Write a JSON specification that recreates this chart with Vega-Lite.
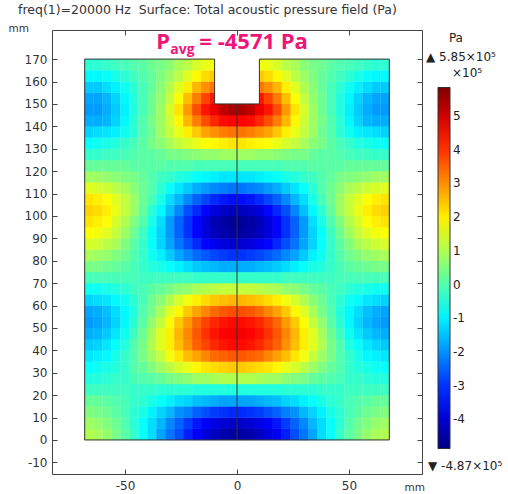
{
"$schema": "https://vega.github.io/schema/vega-lite/v6.json",
"width": 370, "height": 444,
"autosize": "none",
"padding": {"left": 52, "top": 30, "right": 86, "bottom": 20},
"background": "white",
"config": {
  "view": {"stroke": "#444", "strokeWidth": 1},
  "font": "DejaVu Sans",
  "axis": {"grid": false, "domain": false, "tickColor": "#444", "labelColor": "#333", "labelFont": "DejaVu Sans", "labelFontSize": 12, "titleFont": "DejaVu Sans", "titleFontSize": 10.5, "titleFontWeight": "normal", "titleColor": "#333", "labelExpr": "replace(datum.label, '\u2212', '-')"}
},
"title": {"text": "freq(1)=20000 Hz\u00a0 Surface: Total acoustic pressure field (Pa)", "anchor": "start", "frame": "group", "dx": -34, "offset": 7, "fontSize": 12.5, "fontWeight": "normal", "color": "#333", "font": "DejaVu Sans"},
"datasets": {
"cells": [
{"x":-66,"y":2.5,"p":1.0},{"x":-62,"y":2.5,"p":0.9},{"x":-58,"y":2.5,"p":0.7},{"x":-54,"y":2.5,"p":0.4},{"x":-50,"y":2.5,"p":0.1},{"x":-46,"y":2.5,"p":-0.3},{"x":-42,"y":2.5,"p":-0.8},{"x":-38,"y":2.5,"p":-1.2},{"x":-34,"y":2.5,"p":-1.8},{"x":-30,"y":2.5,"p":-2.3},{"x":-26,"y":2.5,"p":-2.7},{"x":-22,"y":2.5,"p":-3.2},{"x":-18,"y":2.5,"p":-3.6},{"x":-14,"y":2.5,"p":-3.9},{"x":-10,"y":2.5,"p":-4.2},{"x":-6,"y":2.5,"p":-4.4},{"x":-2,"y":2.5,"p":-4.5},{"x":2,"y":2.5,"p":-4.5},{"x":6,"y":2.5,"p":-4.4},{"x":10,"y":2.5,"p":-4.2},{"x":14,"y":2.5,"p":-3.9},{"x":18,"y":2.5,"p":-3.6},{"x":22,"y":2.5,"p":-3.2},{"x":26,"y":2.5,"p":-2.7},{"x":30,"y":2.5,"p":-2.3},{"x":34,"y":2.5,"p":-1.8},{"x":38,"y":2.5,"p":-1.2},{"x":42,"y":2.5,"p":-0.8},{"x":46,"y":2.5,"p":-0.3},{"x":50,"y":2.5,"p":0.1},{"x":54,"y":2.5,"p":0.4},{"x":58,"y":2.5,"p":0.7},{"x":62,"y":2.5,"p":0.9},{"x":66,"y":2.5,"p":1.0},
{"x":-66,"y":7.5,"p":0.8},{"x":-62,"y":7.5,"p":0.7},{"x":-58,"y":7.5,"p":0.5},{"x":-54,"y":7.5,"p":0.3},{"x":-50,"y":7.5,"p":0.0},{"x":-46,"y":7.5,"p":-0.4},{"x":-42,"y":7.5,"p":-0.8},{"x":-38,"y":7.5,"p":-1.2},{"x":-34,"y":7.5,"p":-1.6},{"x":-30,"y":7.5,"p":-2.1},{"x":-26,"y":7.5,"p":-2.5},{"x":-22,"y":7.5,"p":-2.9},{"x":-18,"y":7.5,"p":-3.3},{"x":-14,"y":7.5,"p":-3.6},{"x":-10,"y":7.5,"p":-3.8},{"x":-6,"y":7.5,"p":-4.0},{"x":-2,"y":7.5,"p":-4.1},{"x":2,"y":7.5,"p":-4.1},{"x":6,"y":7.5,"p":-4.0},{"x":10,"y":7.5,"p":-3.8},{"x":14,"y":7.5,"p":-3.6},{"x":18,"y":7.5,"p":-3.3},{"x":22,"y":7.5,"p":-2.9},{"x":26,"y":7.5,"p":-2.5},{"x":30,"y":7.5,"p":-2.1},{"x":34,"y":7.5,"p":-1.6},{"x":38,"y":7.5,"p":-1.2},{"x":42,"y":7.5,"p":-0.8},{"x":46,"y":7.5,"p":-0.4},{"x":50,"y":7.5,"p":0.0},{"x":54,"y":7.5,"p":0.3},{"x":58,"y":7.5,"p":0.5},{"x":62,"y":7.5,"p":0.7},{"x":66,"y":7.5,"p":0.8},
{"x":-66,"y":12.5,"p":0.5},{"x":-62,"y":12.5,"p":0.4},{"x":-58,"y":12.5,"p":0.3},{"x":-54,"y":12.5,"p":0.1},{"x":-50,"y":12.5,"p":-0.1},{"x":-46,"y":12.5,"p":-0.4},{"x":-42,"y":12.5,"p":-0.6},{"x":-38,"y":12.5,"p":-1.0},{"x":-34,"y":12.5,"p":-1.3},{"x":-30,"y":12.5,"p":-1.6},{"x":-26,"y":12.5,"p":-2.0},{"x":-22,"y":12.5,"p":-2.2},{"x":-18,"y":12.5,"p":-2.5},{"x":-14,"y":12.5,"p":-2.7},{"x":-10,"y":12.5,"p":-2.9},{"x":-6,"y":12.5,"p":-3.0},{"x":-2,"y":12.5,"p":-3.1},{"x":2,"y":12.5,"p":-3.1},{"x":6,"y":12.5,"p":-3.0},{"x":10,"y":12.5,"p":-2.9},{"x":14,"y":12.5,"p":-2.7},{"x":18,"y":12.5,"p":-2.5},{"x":22,"y":12.5,"p":-2.2},{"x":26,"y":12.5,"p":-2.0},{"x":30,"y":12.5,"p":-1.6},{"x":34,"y":12.5,"p":-1.3},{"x":38,"y":12.5,"p":-1.0},{"x":42,"y":12.5,"p":-0.6},{"x":46,"y":12.5,"p":-0.4},{"x":50,"y":12.5,"p":-0.1},{"x":54,"y":12.5,"p":0.1},{"x":58,"y":12.5,"p":0.3},{"x":62,"y":12.5,"p":0.4},{"x":66,"y":12.5,"p":0.5},
{"x":-66,"y":17.5,"p":0.2},{"x":-62,"y":17.5,"p":0.2},{"x":-58,"y":17.5,"p":0.1},{"x":-54,"y":17.5,"p":0.0},{"x":-50,"y":17.5,"p":-0.1},{"x":-46,"y":17.5,"p":-0.3},{"x":-42,"y":17.5,"p":-0.4},{"x":-38,"y":17.5,"p":-0.6},{"x":-34,"y":17.5,"p":-0.8},{"x":-30,"y":17.5,"p":-1.0},{"x":-26,"y":17.5,"p":-1.2},{"x":-22,"y":17.5,"p":-1.3},{"x":-18,"y":17.5,"p":-1.5},{"x":-14,"y":17.5,"p":-1.6},{"x":-10,"y":17.5,"p":-1.7},{"x":-6,"y":17.5,"p":-1.8},{"x":-2,"y":17.5,"p":-1.8},{"x":2,"y":17.5,"p":-1.8},{"x":6,"y":17.5,"p":-1.8},{"x":10,"y":17.5,"p":-1.7},{"x":14,"y":17.5,"p":-1.6},{"x":18,"y":17.5,"p":-1.5},{"x":22,"y":17.5,"p":-1.3},{"x":26,"y":17.5,"p":-1.2},{"x":30,"y":17.5,"p":-1.0},{"x":34,"y":17.5,"p":-0.8},{"x":38,"y":17.5,"p":-0.6},{"x":42,"y":17.5,"p":-0.4},{"x":46,"y":17.5,"p":-0.3},{"x":50,"y":17.5,"p":-0.1},{"x":54,"y":17.5,"p":0.0},{"x":58,"y":17.5,"p":0.1},{"x":62,"y":17.5,"p":0.2},{"x":66,"y":17.5,"p":0.2},
{"x":-66,"y":22.5,"p":-0.2},{"x":-62,"y":22.5,"p":-0.2},{"x":-58,"y":22.5,"p":-0.2},{"x":-54,"y":22.5,"p":-0.2},{"x":-50,"y":22.5,"p":-0.2},{"x":-46,"y":22.5,"p":-0.3},{"x":-42,"y":22.5,"p":-0.3},{"x":-38,"y":22.5,"p":-0.3},{"x":-34,"y":22.5,"p":-0.4},{"x":-30,"y":22.5,"p":-0.4},{"x":-26,"y":22.5,"p":-0.4},{"x":-22,"y":22.5,"p":-0.4},{"x":-18,"y":22.5,"p":-0.5},{"x":-14,"y":22.5,"p":-0.5},{"x":-10,"y":22.5,"p":-0.5},{"x":-6,"y":22.5,"p":-0.5},{"x":-2,"y":22.5,"p":-0.5},{"x":2,"y":22.5,"p":-0.5},{"x":6,"y":22.5,"p":-0.5},{"x":10,"y":22.5,"p":-0.5},{"x":14,"y":22.5,"p":-0.5},{"x":18,"y":22.5,"p":-0.5},{"x":22,"y":22.5,"p":-0.4},{"x":26,"y":22.5,"p":-0.4},{"x":30,"y":22.5,"p":-0.4},{"x":34,"y":22.5,"p":-0.4},{"x":38,"y":22.5,"p":-0.3},{"x":42,"y":22.5,"p":-0.3},{"x":46,"y":22.5,"p":-0.3},{"x":50,"y":22.5,"p":-0.2},{"x":54,"y":22.5,"p":-0.2},{"x":58,"y":22.5,"p":-0.2},{"x":62,"y":22.5,"p":-0.2},{"x":66,"y":22.5,"p":-0.2},
{"x":-66,"y":27.5,"p":-0.5},{"x":-62,"y":27.5,"p":-0.5},{"x":-58,"y":27.5,"p":-0.4},{"x":-54,"y":27.5,"p":-0.3},{"x":-50,"y":27.5,"p":-0.3},{"x":-46,"y":27.5,"p":-0.1},{"x":-42,"y":27.5,"p":0.0},{"x":-38,"y":27.5,"p":0.1},{"x":-34,"y":27.5,"p":0.2},{"x":-30,"y":27.5,"p":0.4},{"x":-26,"y":27.5,"p":0.5},{"x":-22,"y":27.5,"p":0.6},{"x":-18,"y":27.5,"p":0.8},{"x":-14,"y":27.5,"p":0.8},{"x":-10,"y":27.5,"p":0.9},{"x":-6,"y":27.5,"p":1.0},{"x":-2,"y":27.5,"p":1.0},{"x":2,"y":27.5,"p":1.0},{"x":6,"y":27.5,"p":1.0},{"x":10,"y":27.5,"p":0.9},{"x":14,"y":27.5,"p":0.8},{"x":18,"y":27.5,"p":0.8},{"x":22,"y":27.5,"p":0.6},{"x":26,"y":27.5,"p":0.5},{"x":30,"y":27.5,"p":0.4},{"x":34,"y":27.5,"p":0.2},{"x":38,"y":27.5,"p":0.1},{"x":42,"y":27.5,"p":0.0},{"x":46,"y":27.5,"p":-0.1},{"x":50,"y":27.5,"p":-0.3},{"x":54,"y":27.5,"p":-0.3},{"x":58,"y":27.5,"p":-0.4},{"x":62,"y":27.5,"p":-0.5},{"x":66,"y":27.5,"p":-0.5},
{"x":-66,"y":32.5,"p":-0.8},{"x":-62,"y":32.5,"p":-0.7},{"x":-58,"y":32.5,"p":-0.6},{"x":-54,"y":32.5,"p":-0.5},{"x":-50,"y":32.5,"p":-0.3},{"x":-46,"y":32.5,"p":0.0},{"x":-42,"y":32.5,"p":0.2},{"x":-38,"y":32.5,"p":0.5},{"x":-34,"y":32.5,"p":0.8},{"x":-30,"y":32.5,"p":1.1},{"x":-26,"y":32.5,"p":1.4},{"x":-22,"y":32.5,"p":1.6},{"x":-18,"y":32.5,"p":1.9},{"x":-14,"y":32.5,"p":2.1},{"x":-10,"y":32.5,"p":2.2},{"x":-6,"y":32.5,"p":2.3},{"x":-2,"y":32.5,"p":2.4},{"x":2,"y":32.5,"p":2.4},{"x":6,"y":32.5,"p":2.3},{"x":10,"y":32.5,"p":2.2},{"x":14,"y":32.5,"p":2.1},{"x":18,"y":32.5,"p":1.9},{"x":22,"y":32.5,"p":1.6},{"x":26,"y":32.5,"p":1.4},{"x":30,"y":32.5,"p":1.1},{"x":34,"y":32.5,"p":0.8},{"x":38,"y":32.5,"p":0.5},{"x":42,"y":32.5,"p":0.2},{"x":46,"y":32.5,"p":0.0},{"x":50,"y":32.5,"p":-0.3},{"x":54,"y":32.5,"p":-0.5},{"x":58,"y":32.5,"p":-0.6},{"x":62,"y":32.5,"p":-0.7},{"x":66,"y":32.5,"p":-0.8},
{"x":-66,"y":37.5,"p":-1.1},{"x":-62,"y":37.5,"p":-1.0},{"x":-58,"y":37.5,"p":-0.9},{"x":-54,"y":37.5,"p":-0.6},{"x":-50,"y":37.5,"p":-0.3},{"x":-46,"y":37.5,"p":0.0},{"x":-42,"y":37.5,"p":0.4},{"x":-38,"y":37.5,"p":0.8},{"x":-34,"y":37.5,"p":1.2},{"x":-30,"y":37.5,"p":1.7},{"x":-26,"y":37.5,"p":2.1},{"x":-22,"y":37.5,"p":2.5},{"x":-18,"y":37.5,"p":2.8},{"x":-14,"y":37.5,"p":3.1},{"x":-10,"y":37.5,"p":3.4},{"x":-6,"y":37.5,"p":3.5},{"x":-2,"y":37.5,"p":3.6},{"x":2,"y":37.5,"p":3.6},{"x":6,"y":37.5,"p":3.5},{"x":10,"y":37.5,"p":3.4},{"x":14,"y":37.5,"p":3.1},{"x":18,"y":37.5,"p":2.8},{"x":22,"y":37.5,"p":2.5},{"x":26,"y":37.5,"p":2.1},{"x":30,"y":37.5,"p":1.7},{"x":34,"y":37.5,"p":1.2},{"x":38,"y":37.5,"p":0.8},{"x":42,"y":37.5,"p":0.4},{"x":46,"y":37.5,"p":0.0},{"x":50,"y":37.5,"p":-0.3},{"x":54,"y":37.5,"p":-0.6},{"x":58,"y":37.5,"p":-0.9},{"x":62,"y":37.5,"p":-1.0},{"x":66,"y":37.5,"p":-1.1},
{"x":-66,"y":42.5,"p":-1.4},{"x":-62,"y":42.5,"p":-1.3},{"x":-58,"y":42.5,"p":-1.1},{"x":-54,"y":42.5,"p":-0.8},{"x":-50,"y":42.5,"p":-0.5},{"x":-46,"y":42.5,"p":0.0},{"x":-42,"y":42.5,"p":0.4},{"x":-38,"y":42.5,"p":1.0},{"x":-34,"y":42.5,"p":1.5},{"x":-30,"y":42.5,"p":2.0},{"x":-26,"y":42.5,"p":2.5},{"x":-22,"y":42.5,"p":3.0},{"x":-18,"y":42.5,"p":3.5},{"x":-14,"y":42.5,"p":3.8},{"x":-10,"y":42.5,"p":4.1},{"x":-6,"y":42.5,"p":4.3},{"x":-2,"y":42.5,"p":4.4},{"x":2,"y":42.5,"p":4.4},{"x":6,"y":42.5,"p":4.3},{"x":10,"y":42.5,"p":4.1},{"x":14,"y":42.5,"p":3.8},{"x":18,"y":42.5,"p":3.5},{"x":22,"y":42.5,"p":3.0},{"x":26,"y":42.5,"p":2.5},{"x":30,"y":42.5,"p":2.0},{"x":34,"y":42.5,"p":1.5},{"x":38,"y":42.5,"p":1.0},{"x":42,"y":42.5,"p":0.4},{"x":46,"y":42.5,"p":0.0},{"x":50,"y":42.5,"p":-0.5},{"x":54,"y":42.5,"p":-0.8},{"x":58,"y":42.5,"p":-1.1},{"x":62,"y":42.5,"p":-1.3},{"x":66,"y":42.5,"p":-1.4},
{"x":-66,"y":47.5,"p":-1.7},{"x":-62,"y":47.5,"p":-1.6},{"x":-58,"y":47.5,"p":-1.4},{"x":-54,"y":47.5,"p":-1.1},{"x":-50,"y":47.5,"p":-0.7},{"x":-46,"y":47.5,"p":-0.2},{"x":-42,"y":47.5,"p":0.3},{"x":-38,"y":47.5,"p":0.9},{"x":-34,"y":47.5,"p":1.5},{"x":-30,"y":47.5,"p":2.0},{"x":-26,"y":47.5,"p":2.6},{"x":-22,"y":47.5,"p":3.1},{"x":-18,"y":47.5,"p":3.6},{"x":-14,"y":47.5,"p":4.0},{"x":-10,"y":47.5,"p":4.3},{"x":-6,"y":47.5,"p":4.5},{"x":-2,"y":47.5,"p":4.6},{"x":2,"y":47.5,"p":4.6},{"x":6,"y":47.5,"p":4.5},{"x":10,"y":47.5,"p":4.3},{"x":14,"y":47.5,"p":4.0},{"x":18,"y":47.5,"p":3.6},{"x":22,"y":47.5,"p":3.1},{"x":26,"y":47.5,"p":2.6},{"x":30,"y":47.5,"p":2.0},{"x":34,"y":47.5,"p":1.5},{"x":38,"y":47.5,"p":0.9},{"x":42,"y":47.5,"p":0.3},{"x":46,"y":47.5,"p":-0.2},{"x":50,"y":47.5,"p":-0.7},{"x":54,"y":47.5,"p":-1.1},{"x":58,"y":47.5,"p":-1.4},{"x":62,"y":47.5,"p":-1.6},{"x":66,"y":47.5,"p":-1.7},
{"x":-66,"y":52.5,"p":-1.9},{"x":-62,"y":52.5,"p":-1.8},{"x":-58,"y":52.5,"p":-1.6},{"x":-54,"y":52.5,"p":-1.3},{"x":-50,"y":52.5,"p":-0.9},{"x":-46,"y":52.5,"p":-0.4},{"x":-42,"y":52.5,"p":0.1},{"x":-38,"y":52.5,"p":0.7},{"x":-34,"y":52.5,"p":1.2},{"x":-30,"y":52.5,"p":1.8},{"x":-26,"y":52.5,"p":2.4},{"x":-22,"y":52.5,"p":2.9},{"x":-18,"y":52.5,"p":3.4},{"x":-14,"y":52.5,"p":3.8},{"x":-10,"y":52.5,"p":4.1},{"x":-6,"y":52.5,"p":4.3},{"x":-2,"y":52.5,"p":4.4},{"x":2,"y":52.5,"p":4.4},{"x":6,"y":52.5,"p":4.3},{"x":10,"y":52.5,"p":4.1},{"x":14,"y":52.5,"p":3.8},{"x":18,"y":52.5,"p":3.4},{"x":22,"y":52.5,"p":2.9},{"x":26,"y":52.5,"p":2.4},{"x":30,"y":52.5,"p":1.8},{"x":34,"y":52.5,"p":1.2},{"x":38,"y":52.5,"p":0.7},{"x":42,"y":52.5,"p":0.1},{"x":46,"y":52.5,"p":-0.4},{"x":50,"y":52.5,"p":-0.9},{"x":54,"y":52.5,"p":-1.3},{"x":58,"y":52.5,"p":-1.6},{"x":62,"y":52.5,"p":-1.8},{"x":66,"y":52.5,"p":-1.9},
{"x":-66,"y":57.5,"p":-1.8},{"x":-62,"y":57.5,"p":-1.7},{"x":-58,"y":57.5,"p":-1.5},{"x":-54,"y":57.5,"p":-1.2},{"x":-50,"y":57.5,"p":-0.9},{"x":-46,"y":57.5,"p":-0.5},{"x":-42,"y":57.5,"p":0.0},{"x":-38,"y":57.5,"p":0.4},{"x":-34,"y":57.5,"p":0.9},{"x":-30,"y":57.5,"p":1.5},{"x":-26,"y":57.5,"p":1.9},{"x":-22,"y":57.5,"p":2.4},{"x":-18,"y":57.5,"p":2.8},{"x":-14,"y":57.5,"p":3.1},{"x":-10,"y":57.5,"p":3.4},{"x":-6,"y":57.5,"p":3.6},{"x":-2,"y":57.5,"p":3.7},{"x":2,"y":57.5,"p":3.7},{"x":6,"y":57.5,"p":3.6},{"x":10,"y":57.5,"p":3.4},{"x":14,"y":57.5,"p":3.1},{"x":18,"y":57.5,"p":2.8},{"x":22,"y":57.5,"p":2.4},{"x":26,"y":57.5,"p":1.9},{"x":30,"y":57.5,"p":1.5},{"x":34,"y":57.5,"p":0.9},{"x":38,"y":57.5,"p":0.4},{"x":42,"y":57.5,"p":0.0},{"x":46,"y":57.5,"p":-0.5},{"x":50,"y":57.5,"p":-0.9},{"x":54,"y":57.5,"p":-1.2},{"x":58,"y":57.5,"p":-1.5},{"x":62,"y":57.5,"p":-1.7},{"x":66,"y":57.5,"p":-1.8},
{"x":-66,"y":62.5,"p":-1.3},{"x":-62,"y":62.5,"p":-1.2},{"x":-58,"y":62.5,"p":-1.1},{"x":-54,"y":62.5,"p":-0.9},{"x":-50,"y":62.5,"p":-0.7},{"x":-46,"y":62.5,"p":-0.4},{"x":-42,"y":62.5,"p":-0.1},{"x":-38,"y":62.5,"p":0.3},{"x":-34,"y":62.5,"p":0.6},{"x":-30,"y":62.5,"p":1.0},{"x":-26,"y":62.5,"p":1.4},{"x":-22,"y":62.5,"p":1.7},{"x":-18,"y":62.5,"p":2.0},{"x":-14,"y":62.5,"p":2.2},{"x":-10,"y":62.5,"p":2.4},{"x":-6,"y":62.5,"p":2.5},{"x":-2,"y":62.5,"p":2.6},{"x":2,"y":62.5,"p":2.6},{"x":6,"y":62.5,"p":2.5},{"x":10,"y":62.5,"p":2.4},{"x":14,"y":62.5,"p":2.2},{"x":18,"y":62.5,"p":2.0},{"x":22,"y":62.5,"p":1.7},{"x":26,"y":62.5,"p":1.4},{"x":30,"y":62.5,"p":1.0},{"x":34,"y":62.5,"p":0.6},{"x":38,"y":62.5,"p":0.3},{"x":42,"y":62.5,"p":-0.1},{"x":46,"y":62.5,"p":-0.4},{"x":50,"y":62.5,"p":-0.7},{"x":54,"y":62.5,"p":-0.9},{"x":58,"y":62.5,"p":-1.1},{"x":62,"y":62.5,"p":-1.2},{"x":66,"y":62.5,"p":-1.3},
{"x":-66,"y":67.5,"p":-0.7},{"x":-62,"y":67.5,"p":-0.7},{"x":-58,"y":67.5,"p":-0.6},{"x":-54,"y":67.5,"p":-0.5},{"x":-50,"y":67.5,"p":-0.4},{"x":-46,"y":67.5,"p":-0.2},{"x":-42,"y":67.5,"p":-0.1},{"x":-38,"y":67.5,"p":0.1},{"x":-34,"y":67.5,"p":0.2},{"x":-30,"y":67.5,"p":0.4},{"x":-26,"y":67.5,"p":0.6},{"x":-22,"y":67.5,"p":0.7},{"x":-18,"y":67.5,"p":0.9},{"x":-14,"y":67.5,"p":1.0},{"x":-10,"y":67.5,"p":1.1},{"x":-6,"y":67.5,"p":1.2},{"x":-2,"y":67.5,"p":1.2},{"x":2,"y":67.5,"p":1.2},{"x":6,"y":67.5,"p":1.2},{"x":10,"y":67.5,"p":1.1},{"x":14,"y":67.5,"p":1.0},{"x":18,"y":67.5,"p":0.9},{"x":22,"y":67.5,"p":0.7},{"x":26,"y":67.5,"p":0.6},{"x":30,"y":67.5,"p":0.4},{"x":34,"y":67.5,"p":0.2},{"x":38,"y":67.5,"p":0.1},{"x":42,"y":67.5,"p":-0.1},{"x":46,"y":67.5,"p":-0.2},{"x":50,"y":67.5,"p":-0.4},{"x":54,"y":67.5,"p":-0.5},{"x":58,"y":67.5,"p":-0.6},{"x":62,"y":67.5,"p":-0.7},{"x":66,"y":67.5,"p":-0.7},
{"x":-66,"y":72.5,"p":-0.1},{"x":-62,"y":72.5,"p":-0.1},{"x":-58,"y":72.5,"p":-0.1},{"x":-54,"y":72.5,"p":-0.1},{"x":-50,"y":72.5,"p":-0.1},{"x":-46,"y":72.5,"p":-0.1},{"x":-42,"y":72.5,"p":-0.2},{"x":-38,"y":72.5,"p":-0.2},{"x":-34,"y":72.5,"p":-0.2},{"x":-30,"y":72.5,"p":-0.2},{"x":-26,"y":72.5,"p":-0.2},{"x":-22,"y":72.5,"p":-0.2},{"x":-18,"y":72.5,"p":-0.3},{"x":-14,"y":72.5,"p":-0.3},{"x":-10,"y":72.5,"p":-0.3},{"x":-6,"y":72.5,"p":-0.3},{"x":-2,"y":72.5,"p":-0.3},{"x":2,"y":72.5,"p":-0.3},{"x":6,"y":72.5,"p":-0.3},{"x":10,"y":72.5,"p":-0.3},{"x":14,"y":72.5,"p":-0.3},{"x":18,"y":72.5,"p":-0.3},{"x":22,"y":72.5,"p":-0.2},{"x":26,"y":72.5,"p":-0.2},{"x":30,"y":72.5,"p":-0.2},{"x":34,"y":72.5,"p":-0.2},{"x":38,"y":72.5,"p":-0.2},{"x":42,"y":72.5,"p":-0.2},{"x":46,"y":72.5,"p":-0.1},{"x":50,"y":72.5,"p":-0.1},{"x":54,"y":72.5,"p":-0.1},{"x":58,"y":72.5,"p":-0.1},{"x":62,"y":72.5,"p":-0.1},{"x":66,"y":72.5,"p":-0.1},
{"x":-66,"y":77.5,"p":0.4},{"x":-62,"y":77.5,"p":0.4},{"x":-58,"y":77.5,"p":0.3},{"x":-54,"y":77.5,"p":0.2},{"x":-50,"y":77.5,"p":0.1},{"x":-46,"y":77.5,"p":-0.1},{"x":-42,"y":77.5,"p":-0.3},{"x":-38,"y":77.5,"p":-0.5},{"x":-34,"y":77.5,"p":-0.6},{"x":-30,"y":77.5,"p":-0.8},{"x":-26,"y":77.5,"p":-1.0},{"x":-22,"y":77.5,"p":-1.2},{"x":-18,"y":77.5,"p":-1.4},{"x":-14,"y":77.5,"p":-1.5},{"x":-10,"y":77.5,"p":-1.6},{"x":-6,"y":77.5,"p":-1.7},{"x":-2,"y":77.5,"p":-1.7},{"x":2,"y":77.5,"p":-1.7},{"x":6,"y":77.5,"p":-1.7},{"x":10,"y":77.5,"p":-1.6},{"x":14,"y":77.5,"p":-1.5},{"x":18,"y":77.5,"p":-1.4},{"x":22,"y":77.5,"p":-1.2},{"x":26,"y":77.5,"p":-1.0},{"x":30,"y":77.5,"p":-0.8},{"x":34,"y":77.5,"p":-0.6},{"x":38,"y":77.5,"p":-0.5},{"x":42,"y":77.5,"p":-0.3},{"x":46,"y":77.5,"p":-0.1},{"x":50,"y":77.5,"p":0.1},{"x":54,"y":77.5,"p":0.2},{"x":58,"y":77.5,"p":0.3},{"x":62,"y":77.5,"p":0.4},{"x":66,"y":77.5,"p":0.4},
{"x":-66,"y":82.5,"p":0.9},{"x":-62,"y":82.5,"p":0.8},{"x":-58,"y":82.5,"p":0.7},{"x":-54,"y":82.5,"p":0.5},{"x":-50,"y":82.5,"p":0.3},{"x":-46,"y":82.5,"p":0.0},{"x":-42,"y":82.5,"p":-0.3},{"x":-38,"y":82.5,"p":-0.7},{"x":-34,"y":82.5,"p":-1.0},{"x":-30,"y":82.5,"p":-1.4},{"x":-26,"y":82.5,"p":-1.8},{"x":-22,"y":82.5,"p":-2.1},{"x":-18,"y":82.5,"p":-2.4},{"x":-14,"y":82.5,"p":-2.6},{"x":-10,"y":82.5,"p":-2.8},{"x":-6,"y":82.5,"p":-2.9},{"x":-2,"y":82.5,"p":-3.0},{"x":2,"y":82.5,"p":-3.0},{"x":6,"y":82.5,"p":-2.9},{"x":10,"y":82.5,"p":-2.8},{"x":14,"y":82.5,"p":-2.6},{"x":18,"y":82.5,"p":-2.4},{"x":22,"y":82.5,"p":-2.1},{"x":26,"y":82.5,"p":-1.8},{"x":30,"y":82.5,"p":-1.4},{"x":34,"y":82.5,"p":-1.0},{"x":38,"y":82.5,"p":-0.7},{"x":42,"y":82.5,"p":-0.3},{"x":46,"y":82.5,"p":0.0},{"x":50,"y":82.5,"p":0.3},{"x":54,"y":82.5,"p":0.5},{"x":58,"y":82.5,"p":0.7},{"x":62,"y":82.5,"p":0.8},{"x":66,"y":82.5,"p":0.9},
{"x":-66,"y":87.5,"p":1.4},{"x":-62,"y":87.5,"p":1.3},{"x":-58,"y":87.5,"p":1.1},{"x":-54,"y":87.5,"p":0.9},{"x":-50,"y":87.5,"p":0.5},{"x":-46,"y":87.5,"p":0.1},{"x":-42,"y":87.5,"p":-0.3},{"x":-38,"y":87.5,"p":-0.8},{"x":-34,"y":87.5,"p":-1.3},{"x":-30,"y":87.5,"p":-1.8},{"x":-26,"y":87.5,"p":-2.3},{"x":-22,"y":87.5,"p":-2.7},{"x":-18,"y":87.5,"p":-3.1},{"x":-14,"y":87.5,"p":-3.5},{"x":-10,"y":87.5,"p":-3.7},{"x":-6,"y":87.5,"p":-3.9},{"x":-2,"y":87.5,"p":-4.0},{"x":2,"y":87.5,"p":-4.0},{"x":6,"y":87.5,"p":-3.9},{"x":10,"y":87.5,"p":-3.7},{"x":14,"y":87.5,"p":-3.5},{"x":18,"y":87.5,"p":-3.1},{"x":22,"y":87.5,"p":-2.7},{"x":26,"y":87.5,"p":-2.3},{"x":30,"y":87.5,"p":-1.8},{"x":34,"y":87.5,"p":-1.3},{"x":38,"y":87.5,"p":-0.8},{"x":42,"y":87.5,"p":-0.3},{"x":46,"y":87.5,"p":0.1},{"x":50,"y":87.5,"p":0.5},{"x":54,"y":87.5,"p":0.9},{"x":58,"y":87.5,"p":1.1},{"x":62,"y":87.5,"p":1.3},{"x":66,"y":87.5,"p":1.4},
{"x":-66,"y":92.5,"p":1.8},{"x":-62,"y":92.5,"p":1.7},{"x":-58,"y":92.5,"p":1.5},{"x":-54,"y":92.5,"p":1.2},{"x":-50,"y":92.5,"p":0.8},{"x":-46,"y":92.5,"p":0.3},{"x":-42,"y":92.5,"p":-0.2},{"x":-38,"y":92.5,"p":-0.8},{"x":-34,"y":92.5,"p":-1.3},{"x":-30,"y":92.5,"p":-1.9},{"x":-26,"y":92.5,"p":-2.5},{"x":-22,"y":92.5,"p":-3.0},{"x":-18,"y":92.5,"p":-3.5},{"x":-14,"y":92.5,"p":-3.9},{"x":-10,"y":92.5,"p":-4.2},{"x":-6,"y":92.5,"p":-4.4},{"x":-2,"y":92.5,"p":-4.5},{"x":2,"y":92.5,"p":-4.5},{"x":6,"y":92.5,"p":-4.4},{"x":10,"y":92.5,"p":-4.2},{"x":14,"y":92.5,"p":-3.9},{"x":18,"y":92.5,"p":-3.5},{"x":22,"y":92.5,"p":-3.0},{"x":26,"y":92.5,"p":-2.5},{"x":30,"y":92.5,"p":-1.9},{"x":34,"y":92.5,"p":-1.3},{"x":38,"y":92.5,"p":-0.8},{"x":42,"y":92.5,"p":-0.2},{"x":46,"y":92.5,"p":0.3},{"x":50,"y":92.5,"p":0.8},{"x":54,"y":92.5,"p":1.2},{"x":58,"y":92.5,"p":1.5},{"x":62,"y":92.5,"p":1.7},{"x":66,"y":92.5,"p":1.8},
{"x":-66,"y":97.5,"p":2.1},{"x":-62,"y":97.5,"p":2.0},{"x":-58,"y":97.5,"p":1.8},{"x":-54,"y":97.5,"p":1.4},{"x":-50,"y":97.5,"p":1.0},{"x":-46,"y":97.5,"p":0.5},{"x":-42,"y":97.5,"p":0.0},{"x":-38,"y":97.5,"p":-0.6},{"x":-34,"y":97.5,"p":-1.2},{"x":-30,"y":97.5,"p":-1.9},{"x":-26,"y":97.5,"p":-2.5},{"x":-22,"y":97.5,"p":-3.0},{"x":-18,"y":97.5,"p":-3.5},{"x":-14,"y":97.5,"p":-3.9},{"x":-10,"y":97.5,"p":-4.3},{"x":-6,"y":97.5,"p":-4.5},{"x":-2,"y":97.5,"p":-4.6},{"x":2,"y":97.5,"p":-4.6},{"x":6,"y":97.5,"p":-4.5},{"x":10,"y":97.5,"p":-4.3},{"x":14,"y":97.5,"p":-3.9},{"x":18,"y":97.5,"p":-3.5},{"x":22,"y":97.5,"p":-3.0},{"x":26,"y":97.5,"p":-2.5},{"x":30,"y":97.5,"p":-1.9},{"x":34,"y":97.5,"p":-1.2},{"x":38,"y":97.5,"p":-0.6},{"x":42,"y":97.5,"p":0.0},{"x":46,"y":97.5,"p":0.5},{"x":50,"y":97.5,"p":1.0},{"x":54,"y":97.5,"p":1.4},{"x":58,"y":97.5,"p":1.8},{"x":62,"y":97.5,"p":2.0},{"x":66,"y":97.5,"p":2.1},
{"x":-66,"y":102.5,"p":2.3},{"x":-62,"y":102.5,"p":2.2},{"x":-58,"y":102.5,"p":2.0},{"x":-54,"y":102.5,"p":1.6},{"x":-50,"y":102.5,"p":1.2},{"x":-46,"y":102.5,"p":0.8},{"x":-42,"y":102.5,"p":0.2},{"x":-38,"y":102.5,"p":-0.4},{"x":-34,"y":102.5,"p":-0.9},{"x":-30,"y":102.5,"p":-1.5},{"x":-26,"y":102.5,"p":-2.1},{"x":-22,"y":102.5,"p":-2.7},{"x":-18,"y":102.5,"p":-3.1},{"x":-14,"y":102.5,"p":-3.5},{"x":-10,"y":102.5,"p":-3.9},{"x":-6,"y":102.5,"p":-4.1},{"x":-2,"y":102.5,"p":-4.2},{"x":2,"y":102.5,"p":-4.2},{"x":6,"y":102.5,"p":-4.1},{"x":10,"y":102.5,"p":-3.9},{"x":14,"y":102.5,"p":-3.5},{"x":18,"y":102.5,"p":-3.1},{"x":22,"y":102.5,"p":-2.7},{"x":26,"y":102.5,"p":-2.1},{"x":30,"y":102.5,"p":-1.5},{"x":34,"y":102.5,"p":-0.9},{"x":38,"y":102.5,"p":-0.4},{"x":42,"y":102.5,"p":0.2},{"x":46,"y":102.5,"p":0.8},{"x":50,"y":102.5,"p":1.2},{"x":54,"y":102.5,"p":1.6},{"x":58,"y":102.5,"p":2.0},{"x":62,"y":102.5,"p":2.2},{"x":66,"y":102.5,"p":2.3},
{"x":-66,"y":107.5,"p":2.1},{"x":-62,"y":107.5,"p":2.0},{"x":-58,"y":107.5,"p":1.8},{"x":-54,"y":107.5,"p":1.5},{"x":-50,"y":107.5,"p":1.2},{"x":-46,"y":107.5,"p":0.8},{"x":-42,"y":107.5,"p":0.3},{"x":-38,"y":107.5,"p":-0.1},{"x":-34,"y":107.5,"p":-0.6},{"x":-30,"y":107.5,"p":-1.2},{"x":-26,"y":107.5,"p":-1.6},{"x":-22,"y":107.5,"p":-2.1},{"x":-18,"y":107.5,"p":-2.5},{"x":-14,"y":107.5,"p":-2.8},{"x":-10,"y":107.5,"p":-3.1},{"x":-6,"y":107.5,"p":-3.3},{"x":-2,"y":107.5,"p":-3.4},{"x":2,"y":107.5,"p":-3.4},{"x":6,"y":107.5,"p":-3.3},{"x":10,"y":107.5,"p":-3.1},{"x":14,"y":107.5,"p":-2.8},{"x":18,"y":107.5,"p":-2.5},{"x":22,"y":107.5,"p":-2.1},{"x":26,"y":107.5,"p":-1.6},{"x":30,"y":107.5,"p":-1.2},{"x":34,"y":107.5,"p":-0.6},{"x":38,"y":107.5,"p":-0.1},{"x":42,"y":107.5,"p":0.3},{"x":46,"y":107.5,"p":0.8},{"x":50,"y":107.5,"p":1.2},{"x":54,"y":107.5,"p":1.5},{"x":58,"y":107.5,"p":1.8},{"x":62,"y":107.5,"p":2.0},{"x":66,"y":107.5,"p":2.1},
{"x":-66,"y":112.5,"p":1.5},{"x":-62,"y":112.5,"p":1.4},{"x":-58,"y":112.5,"p":1.3},{"x":-54,"y":112.5,"p":1.1},{"x":-50,"y":112.5,"p":0.9},{"x":-46,"y":112.5,"p":0.6},{"x":-42,"y":112.5,"p":0.3},{"x":-38,"y":112.5,"p":0.0},{"x":-34,"y":112.5,"p":-0.4},{"x":-30,"y":112.5,"p":-0.8},{"x":-26,"y":112.5,"p":-1.1},{"x":-22,"y":112.5,"p":-1.4},{"x":-18,"y":112.5,"p":-1.7},{"x":-14,"y":112.5,"p":-1.9},{"x":-10,"y":112.5,"p":-2.1},{"x":-6,"y":112.5,"p":-2.2},{"x":-2,"y":112.5,"p":-2.3},{"x":2,"y":112.5,"p":-2.3},{"x":6,"y":112.5,"p":-2.2},{"x":10,"y":112.5,"p":-2.1},{"x":14,"y":112.5,"p":-1.9},{"x":18,"y":112.5,"p":-1.7},{"x":22,"y":112.5,"p":-1.4},{"x":26,"y":112.5,"p":-1.1},{"x":30,"y":112.5,"p":-0.8},{"x":34,"y":112.5,"p":-0.4},{"x":38,"y":112.5,"p":0.0},{"x":42,"y":112.5,"p":0.3},{"x":46,"y":112.5,"p":0.6},{"x":50,"y":112.5,"p":0.9},{"x":54,"y":112.5,"p":1.1},{"x":58,"y":112.5,"p":1.3},{"x":62,"y":112.5,"p":1.4},{"x":66,"y":112.5,"p":1.5},
{"x":-66,"y":117.5,"p":0.8},{"x":-62,"y":117.5,"p":0.8},{"x":-58,"y":117.5,"p":0.7},{"x":-54,"y":117.5,"p":0.6},{"x":-50,"y":117.5,"p":0.5},{"x":-46,"y":117.5,"p":0.4},{"x":-42,"y":117.5,"p":0.2},{"x":-38,"y":117.5,"p":0.0},{"x":-34,"y":117.5,"p":-0.2},{"x":-30,"y":117.5,"p":-0.3},{"x":-26,"y":117.5,"p":-0.5},{"x":-22,"y":117.5,"p":-0.6},{"x":-18,"y":117.5,"p":-0.8},{"x":-14,"y":117.5,"p":-0.9},{"x":-10,"y":117.5,"p":-1.0},{"x":-6,"y":117.5,"p":-1.1},{"x":-2,"y":117.5,"p":-1.1},{"x":2,"y":117.5,"p":-1.1},{"x":6,"y":117.5,"p":-1.1},{"x":10,"y":117.5,"p":-1.0},{"x":14,"y":117.5,"p":-0.9},{"x":18,"y":117.5,"p":-0.8},{"x":22,"y":117.5,"p":-0.6},{"x":26,"y":117.5,"p":-0.5},{"x":30,"y":117.5,"p":-0.3},{"x":34,"y":117.5,"p":-0.2},{"x":38,"y":117.5,"p":0.0},{"x":42,"y":117.5,"p":0.2},{"x":46,"y":117.5,"p":0.4},{"x":50,"y":117.5,"p":0.5},{"x":54,"y":117.5,"p":0.6},{"x":58,"y":117.5,"p":0.7},{"x":62,"y":117.5,"p":0.8},{"x":66,"y":117.5,"p":0.8},
{"x":-66,"y":122.5,"p":0.2},{"x":-62,"y":122.5,"p":0.2},{"x":-58,"y":122.5,"p":0.2},{"x":-54,"y":122.5,"p":0.2},{"x":-50,"y":122.5,"p":0.2},{"x":-46,"y":122.5,"p":0.1},{"x":-42,"y":122.5,"p":0.1},{"x":-38,"y":122.5,"p":0.1},{"x":-34,"y":122.5,"p":0.1},{"x":-30,"y":122.5,"p":0.0},{"x":-26,"y":122.5,"p":0.0},{"x":-22,"y":122.5,"p":0.0},{"x":-18,"y":122.5,"p":-0.1},{"x":-14,"y":122.5,"p":-0.1},{"x":-10,"y":122.5,"p":-0.1},{"x":-6,"y":122.5,"p":-0.1},{"x":-2,"y":122.5,"p":-0.1},{"x":2,"y":122.5,"p":-0.1},{"x":6,"y":122.5,"p":-0.1},{"x":10,"y":122.5,"p":-0.1},{"x":14,"y":122.5,"p":-0.1},{"x":18,"y":122.5,"p":-0.1},{"x":22,"y":122.5,"p":0.0},{"x":26,"y":122.5,"p":0.0},{"x":30,"y":122.5,"p":0.0},{"x":34,"y":122.5,"p":0.1},{"x":38,"y":122.5,"p":0.1},{"x":42,"y":122.5,"p":0.1},{"x":46,"y":122.5,"p":0.1},{"x":50,"y":122.5,"p":0.2},{"x":54,"y":122.5,"p":0.2},{"x":58,"y":122.5,"p":0.2},{"x":62,"y":122.5,"p":0.2},{"x":66,"y":122.5,"p":0.2},
{"x":-66,"y":127.5,"p":-0.3},{"x":-62,"y":127.5,"p":-0.3},{"x":-58,"y":127.5,"p":-0.2},{"x":-54,"y":127.5,"p":-0.2},{"x":-50,"y":127.5,"p":-0.1},{"x":-46,"y":127.5,"p":0.0},{"x":-42,"y":127.5,"p":0.1},{"x":-38,"y":127.5,"p":0.1},{"x":-34,"y":127.5,"p":0.2},{"x":-30,"y":127.5,"p":0.4},{"x":-26,"y":127.5,"p":0.4},{"x":-22,"y":127.5,"p":0.5},{"x":-18,"y":127.5,"p":0.6},{"x":-14,"y":127.5,"p":0.7},{"x":-10,"y":127.5,"p":0.7},{"x":-6,"y":127.5,"p":0.8},{"x":-2,"y":127.5,"p":0.8},{"x":2,"y":127.5,"p":0.8},{"x":6,"y":127.5,"p":0.8},{"x":10,"y":127.5,"p":0.7},{"x":14,"y":127.5,"p":0.7},{"x":18,"y":127.5,"p":0.6},{"x":22,"y":127.5,"p":0.5},{"x":26,"y":127.5,"p":0.4},{"x":30,"y":127.5,"p":0.4},{"x":34,"y":127.5,"p":0.2},{"x":38,"y":127.5,"p":0.1},{"x":42,"y":127.5,"p":0.1},{"x":46,"y":127.5,"p":0.0},{"x":50,"y":127.5,"p":-0.1},{"x":54,"y":127.5,"p":-0.2},{"x":58,"y":127.5,"p":-0.2},{"x":62,"y":127.5,"p":-0.3},{"x":66,"y":127.5,"p":-0.3},
{"x":-66,"y":132.5,"p":-0.8},{"x":-62,"y":132.5,"p":-0.7},{"x":-58,"y":132.5,"p":-0.6},{"x":-54,"y":132.5,"p":-0.5},{"x":-50,"y":132.5,"p":-0.3},{"x":-46,"y":132.5,"p":-0.1},{"x":-42,"y":132.5,"p":0.1},{"x":-38,"y":132.5,"p":0.4},{"x":-34,"y":132.5,"p":0.6},{"x":-30,"y":132.5,"p":0.9},{"x":-26,"y":132.5,"p":1.2},{"x":-22,"y":132.5,"p":1.4},{"x":-18,"y":132.5,"p":1.6},{"x":-14,"y":132.5,"p":1.8},{"x":-10,"y":132.5,"p":1.9},{"x":-6,"y":132.5,"p":2.0},{"x":-2,"y":132.5,"p":2.1},{"x":2,"y":132.5,"p":2.1},{"x":6,"y":132.5,"p":2.0},{"x":10,"y":132.5,"p":1.9},{"x":14,"y":132.5,"p":1.8},{"x":18,"y":132.5,"p":1.6},{"x":22,"y":132.5,"p":1.4},{"x":26,"y":132.5,"p":1.2},{"x":30,"y":132.5,"p":0.9},{"x":34,"y":132.5,"p":0.6},{"x":38,"y":132.5,"p":0.4},{"x":42,"y":132.5,"p":0.1},{"x":46,"y":132.5,"p":-0.1},{"x":50,"y":132.5,"p":-0.3},{"x":54,"y":132.5,"p":-0.5},{"x":58,"y":132.5,"p":-0.6},{"x":62,"y":132.5,"p":-0.7},{"x":66,"y":132.5,"p":-0.8},
{"x":-66,"y":137.5,"p":-1.3},{"x":-62,"y":137.5,"p":-1.2},{"x":-58,"y":137.5,"p":-1.1},{"x":-54,"y":137.5,"p":-1.0},{"x":-50,"y":137.5,"p":-0.7},{"x":-46,"y":137.5,"p":-0.4},{"x":-42,"y":137.5,"p":0.0},{"x":-38,"y":137.5,"p":0.3},{"x":-34,"y":137.5,"p":0.8},{"x":-30,"y":137.5,"p":1.2},{"x":-26,"y":137.5,"p":1.6},{"x":-22,"y":137.5,"p":2.0},{"x":-18,"y":137.5,"p":2.4},{"x":-14,"y":137.5,"p":2.8},{"x":-10,"y":137.5,"p":3.0},{"x":-6,"y":137.5,"p":3.2},{"x":-2,"y":137.5,"p":3.3},{"x":2,"y":137.5,"p":3.3},{"x":6,"y":137.5,"p":3.2},{"x":10,"y":137.5,"p":3.0},{"x":14,"y":137.5,"p":2.8},{"x":18,"y":137.5,"p":2.4},{"x":22,"y":137.5,"p":2.0},{"x":26,"y":137.5,"p":1.6},{"x":30,"y":137.5,"p":1.2},{"x":34,"y":137.5,"p":0.8},{"x":38,"y":137.5,"p":0.3},{"x":42,"y":137.5,"p":0.0},{"x":46,"y":137.5,"p":-0.4},{"x":50,"y":137.5,"p":-0.7},{"x":54,"y":137.5,"p":-1.0},{"x":58,"y":137.5,"p":-1.1},{"x":62,"y":137.5,"p":-1.2},{"x":66,"y":137.5,"p":-1.3},
{"x":-66,"y":142.5,"p":-1.7},{"x":-62,"y":142.5,"p":-1.7},{"x":-58,"y":142.5,"p":-1.6},{"x":-54,"y":142.5,"p":-1.3},{"x":-50,"y":142.5,"p":-0.9},{"x":-46,"y":142.5,"p":-0.4},{"x":-42,"y":142.5,"p":0.0},{"x":-38,"y":142.5,"p":0.4},{"x":-34,"y":142.5,"p":0.8},{"x":-30,"y":142.5,"p":1.3},{"x":-26,"y":142.5,"p":1.9},{"x":-22,"y":142.5,"p":2.6},{"x":-18,"y":142.5,"p":3.2},{"x":-14,"y":142.5,"p":3.7},{"x":-10,"y":142.5,"p":4.1},{"x":-6,"y":142.5,"p":4.4},{"x":-2,"y":142.5,"p":4.5},{"x":2,"y":142.5,"p":4.5},{"x":6,"y":142.5,"p":4.4},{"x":10,"y":142.5,"p":4.1},{"x":14,"y":142.5,"p":3.7},{"x":18,"y":142.5,"p":3.2},{"x":22,"y":142.5,"p":2.6},{"x":26,"y":142.5,"p":1.9},{"x":30,"y":142.5,"p":1.3},{"x":34,"y":142.5,"p":0.8},{"x":38,"y":142.5,"p":0.4},{"x":42,"y":142.5,"p":0.0},{"x":46,"y":142.5,"p":-0.4},{"x":50,"y":142.5,"p":-0.9},{"x":54,"y":142.5,"p":-1.3},{"x":58,"y":142.5,"p":-1.6},{"x":62,"y":142.5,"p":-1.7},{"x":66,"y":142.5,"p":-1.7},
{"x":-66,"y":147.5,"p":-1.9},{"x":-62,"y":147.5,"p":-1.9},{"x":-58,"y":147.5,"p":-1.7},{"x":-54,"y":147.5,"p":-1.4},{"x":-50,"y":147.5,"p":-1.0},{"x":-46,"y":147.5,"p":-0.5},{"x":-42,"y":147.5,"p":-0.1},{"x":-38,"y":147.5,"p":0.3},{"x":-34,"y":147.5,"p":0.8},{"x":-30,"y":147.5,"p":1.4},{"x":-26,"y":147.5,"p":2.1},{"x":-22,"y":147.5,"p":2.9},{"x":-18,"y":147.5,"p":3.7},{"x":-14,"y":147.5,"p":4.3},{"x":-10,"y":147.5,"p":4.7},{"x":-6,"y":147.5,"p":5.2},{"x":-2,"y":147.5,"p":5.4},{"x":2,"y":147.5,"p":5.4},{"x":6,"y":147.5,"p":5.2},{"x":10,"y":147.5,"p":4.7},{"x":14,"y":147.5,"p":4.3},{"x":18,"y":147.5,"p":3.7},{"x":22,"y":147.5,"p":2.9},{"x":26,"y":147.5,"p":2.1},{"x":30,"y":147.5,"p":1.4},{"x":34,"y":147.5,"p":0.8},{"x":38,"y":147.5,"p":0.3},{"x":42,"y":147.5,"p":-0.1},{"x":46,"y":147.5,"p":-0.5},{"x":50,"y":147.5,"p":-1.0},{"x":54,"y":147.5,"p":-1.4},{"x":58,"y":147.5,"p":-1.7},{"x":62,"y":147.5,"p":-1.9},{"x":66,"y":147.5,"p":-1.9},
{"x":-66,"y":152.5,"p":-1.8},{"x":-62,"y":152.5,"p":-1.8},{"x":-58,"y":152.5,"p":-1.6},{"x":-54,"y":152.5,"p":-1.3},{"x":-50,"y":152.5,"p":-0.9},{"x":-46,"y":152.5,"p":-0.5},{"x":-42,"y":152.5,"p":-0.1},{"x":-38,"y":152.5,"p":0.3},{"x":-34,"y":152.5,"p":0.7},{"x":-30,"y":152.5,"p":1.2},{"x":-26,"y":152.5,"p":1.8},{"x":-22,"y":152.5,"p":2.5},{"x":-18,"y":152.5,"p":3.2},{"x":-14,"y":152.5,"p":3.8},{"x":-10,"y":152.5,"p":4.3},{"x":10,"y":152.5,"p":4.3},{"x":14,"y":152.5,"p":3.8},{"x":18,"y":152.5,"p":3.2},{"x":22,"y":152.5,"p":2.5},{"x":26,"y":152.5,"p":1.8},{"x":30,"y":152.5,"p":1.2},{"x":34,"y":152.5,"p":0.7},{"x":38,"y":152.5,"p":0.3},{"x":42,"y":152.5,"p":-0.1},{"x":46,"y":152.5,"p":-0.5},{"x":50,"y":152.5,"p":-0.9},{"x":54,"y":152.5,"p":-1.3},{"x":58,"y":152.5,"p":-1.6},{"x":62,"y":152.5,"p":-1.8},{"x":66,"y":152.5,"p":-1.8},
{"x":-66,"y":157.5,"p":-1.4},{"x":-62,"y":157.5,"p":-1.4},{"x":-58,"y":157.5,"p":-1.2},{"x":-54,"y":157.5,"p":-1.0},{"x":-50,"y":157.5,"p":-0.7},{"x":-46,"y":157.5,"p":-0.4},{"x":-42,"y":157.5,"p":-0.1},{"x":-38,"y":157.5,"p":0.2},{"x":-34,"y":157.5,"p":0.6},{"x":-30,"y":157.5,"p":1.0},{"x":-26,"y":157.5,"p":1.5},{"x":-22,"y":157.5,"p":2.0},{"x":-18,"y":157.5,"p":2.6},{"x":-14,"y":157.5,"p":3.0},{"x":-10,"y":157.5,"p":3.3},{"x":10,"y":157.5,"p":3.3},{"x":14,"y":157.5,"p":3.0},{"x":18,"y":157.5,"p":2.6},{"x":22,"y":157.5,"p":2.0},{"x":26,"y":157.5,"p":1.5},{"x":30,"y":157.5,"p":1.0},{"x":34,"y":157.5,"p":0.6},{"x":38,"y":157.5,"p":0.2},{"x":42,"y":157.5,"p":-0.1},{"x":46,"y":157.5,"p":-0.4},{"x":50,"y":157.5,"p":-0.7},{"x":54,"y":157.5,"p":-1.0},{"x":58,"y":157.5,"p":-1.2},{"x":62,"y":157.5,"p":-1.4},{"x":66,"y":157.5,"p":-1.4},
{"x":-66,"y":162.5,"p":-0.9},{"x":-62,"y":162.5,"p":-0.9},{"x":-58,"y":162.5,"p":-0.8},{"x":-54,"y":162.5,"p":-0.6},{"x":-50,"y":162.5,"p":-0.4},{"x":-46,"y":162.5,"p":-0.2},{"x":-42,"y":162.5,"p":0.0},{"x":-38,"y":162.5,"p":0.2},{"x":-34,"y":162.5,"p":0.5},{"x":-30,"y":162.5,"p":0.8},{"x":-26,"y":162.5,"p":1.1},{"x":-22,"y":162.5,"p":1.5},{"x":-18,"y":162.5,"p":1.9},{"x":-14,"y":162.5,"p":2.2},{"x":-10,"y":162.5,"p":2.4},{"x":10,"y":162.5,"p":2.4},{"x":14,"y":162.5,"p":2.2},{"x":18,"y":162.5,"p":1.9},{"x":22,"y":162.5,"p":1.5},{"x":26,"y":162.5,"p":1.1},{"x":30,"y":162.5,"p":0.8},{"x":34,"y":162.5,"p":0.5},{"x":38,"y":162.5,"p":0.2},{"x":42,"y":162.5,"p":0.0},{"x":46,"y":162.5,"p":-0.2},{"x":50,"y":162.5,"p":-0.4},{"x":54,"y":162.5,"p":-0.6},{"x":58,"y":162.5,"p":-0.8},{"x":62,"y":162.5,"p":-0.9},{"x":66,"y":162.5,"p":-0.9},
{"x":-66,"y":167.5,"p":-0.4},{"x":-62,"y":167.5,"p":-0.4},{"x":-58,"y":167.5,"p":-0.3},{"x":-54,"y":167.5,"p":-0.2},{"x":-50,"y":167.5,"p":-0.1},{"x":-46,"y":167.5,"p":0.0},{"x":-42,"y":167.5,"p":0.1},{"x":-38,"y":167.5,"p":0.3},{"x":-34,"y":167.5,"p":0.4},{"x":-30,"y":167.5,"p":0.6},{"x":-26,"y":167.5,"p":0.9},{"x":-22,"y":167.5,"p":1.1},{"x":-18,"y":167.5,"p":1.4},{"x":-14,"y":167.5,"p":1.6},{"x":-10,"y":167.5,"p":1.7},{"x":10,"y":167.5,"p":1.7},{"x":14,"y":167.5,"p":1.6},{"x":18,"y":167.5,"p":1.4},{"x":22,"y":167.5,"p":1.1},{"x":26,"y":167.5,"p":0.9},{"x":30,"y":167.5,"p":0.6},{"x":34,"y":167.5,"p":0.4},{"x":38,"y":167.5,"p":0.3},{"x":42,"y":167.5,"p":0.1},{"x":46,"y":167.5,"p":0.0},{"x":50,"y":167.5,"p":-0.1},{"x":54,"y":167.5,"p":-0.2},{"x":58,"y":167.5,"p":-0.3},{"x":62,"y":167.5,"p":-0.4},{"x":66,"y":167.5,"p":-0.4}
],
"notch": [{"x1": -10, "x2": 10, "y1": 150, "y2": 171}],
"edges": [
{"seg":"outline","i":0,"x":-68,"y":0},{"seg":"outline","i":1,"x":68,"y":0},{"seg":"outline","i":2,"x":68,"y":170},{"seg":"outline","i":3,"x":10,"y":170},{"seg":"outline","i":4,"x":10,"y":150},{"seg":"outline","i":5,"x":-10,"y":150},{"seg":"outline","i":6,"x":-10,"y":170},{"seg":"outline","i":7,"x":-68,"y":170},{"seg":"outline","i":8,"x":-68,"y":0},
{"seg":"centre","i":0,"x":0,"y":0},{"seg":"centre","i":1,"x":0,"y":150}
],
"notes": [{"x": -36, "y": 174.6, "p1": "P", "p2": "avg", "p3": "= -4571 Pa"}],
"cbar": [{"x": 94.6, "y": 179.5, "t": "Pa"}, {"x": 84.4, "y": 171.0, "t": "▲ 5.85×10⁵"}, {"x": 96.0, "y": 163.8, "t": "×10⁵"}, {"x": 85.3, "y": -11.6, "t": "▼ -4.87×10⁵"}]
},
"layer": [
{"data": {"name": "cells"},
 "mark": {"type": "rect", "width": 9.2, "height": 11.6},
 "encoding": {
  "x": {"field": "x", "type": "quantitative", "scale": {"domain": [-82.6, 82.6], "nice": false, "zero": false},
        "axis": {"values": [-50, 0, 50], "tickSize": -5, "labelPadding": 11, "title": "mm", "titleX": 352, "titleY": 16, "titleAlign": "left", "titleBaseline": "alphabetic"}},
  "y": {"field": "y", "type": "quantitative", "scale": {"domain": [-15.2, 183], "nice": false, "zero": false},
        "axis": {"values": [-10,0,10,20,30,40,50,60,70,80,90,100,110,120,130,140,150,160,170], "tickSize": -5, "labelPadding": 10, "title": "mm", "titleAngle": 0, "titleX": -44, "titleY": 1, "titleAlign": "left", "titleBaseline": "alphabetic"}},
  "color": {"field": "p", "type": "quantitative",
    "scale": {"domain": [-4.87, -3.53, -0.85, 1.83, 4.51, 5.85], "range": ["#00007f", "#0000ff", "#00ffff", "#ffff00", "#ff0000", "#7f0000"], "interpolate": "rgb"},
    "legend": {"title": null, "orient": "none", "legendX": 386, "legendY": 57.5,
      "gradientLength": 361, "gradientThickness": 12, "gradientStrokeColor": "#333", "gradientStrokeWidth": 1,
      "values": [5, 4, 3, 2, 1, 0, -1, -2, -3, -4], "labelOverlap": false, "labelFontSize": 12, "labelOffset": 3, "labelColor": "#222", "labelFont": "DejaVu Sans", "labelExpr": "replace(datum.label, '\u2212', '-')",
      "padding": 0, "direction": "vertical"}}
 }},
{"data": {"name": "notch"},
 "mark": {"type": "rect", "fill": "white"},
 "encoding": {
  "x": {"field": "x1", "type": "quantitative", "scale": {"domain": [-82.6, 82.6], "nice": false, "zero": false}, "axis": null},
  "x2": {"field": "x2"},
  "y": {"field": "y1", "type": "quantitative", "scale": {"domain": [-15.2, 183], "nice": false, "zero": false}, "axis": null},
  "y2": {"field": "y2"}
 }},
{"data": {"name": "edges"},
 "mark": {"type": "line", "stroke": "#333", "strokeWidth": 1},
 "encoding": {
  "x": {"field": "x", "type": "quantitative", "scale": {"domain": [-82.6, 82.6], "nice": false, "zero": false}, "axis": {"orient": "top", "values": [-50, 0, 50], "labels": false, "title": null, "tickSize": -5}},
  "y": {"field": "y", "type": "quantitative", "scale": {"domain": [-15.2, 183], "nice": false, "zero": false}, "axis": {"orient": "right", "values": [-10,0,10,20,30,40,50,60,70,80,90,100,110,120,130,140,150,160,170], "labels": false, "title": null, "tickSize": -5}},
  "detail": {"field": "seg"},
  "order": {"field": "i"}
 }},
{"data": {"name": "notes"},
 "mark": {"type": "text", "align": "left", "baseline": "alphabetic", "font": "Open Sans", "fontWeight": "bold", "fontSize": 22, "color": "#f0147a"},
 "encoding": {
  "x": {"field": "x", "type": "quantitative", "scale": {"domain": [-82.6, 82.6], "nice": false, "zero": false}, "axis": null},
  "y": {"field": "y", "type": "quantitative", "scale": {"domain": [-15.2, 183], "nice": false, "zero": false}, "axis": null},
  "text": {"field": "p1"}
 }},
{"data": {"name": "notes"},
 "mark": {"type": "text", "align": "left", "baseline": "alphabetic", "font": "Open Sans", "fontWeight": "bold", "fontSize": 14, "color": "#f0147a", "dx": 14, "dy": 5},
 "encoding": {
  "x": {"field": "x", "type": "quantitative", "scale": {"domain": [-82.6, 82.6], "nice": false, "zero": false}, "axis": null},
  "y": {"field": "y", "type": "quantitative", "scale": {"domain": [-15.2, 183], "nice": false, "zero": false}, "axis": null},
  "text": {"field": "p2"}
 }},
{"data": {"name": "notes"},
 "mark": {"type": "text", "align": "left", "baseline": "alphabetic", "font": "Open Sans", "fontWeight": "bold", "fontSize": 22, "color": "#f0147a", "dx": 43},
 "encoding": {
  "x": {"field": "x", "type": "quantitative", "scale": {"domain": [-82.6, 82.6], "nice": false, "zero": false}, "axis": null},
  "y": {"field": "y", "type": "quantitative", "scale": {"domain": [-15.2, 183], "nice": false, "zero": false}, "axis": null},
  "text": {"field": "p3"}
 }},
{"data": {"name": "cbar"},
 "mark": {"type": "text", "align": "left", "baseline": "middle", "font": "DejaVu Sans", "fontSize": 12, "color": "#222"},
 "encoding": {
  "x": {"field": "x", "type": "quantitative", "scale": {"domain": [-82.6, 82.6], "nice": false, "zero": false}, "axis": null},
  "y": {"field": "y", "type": "quantitative", "scale": {"domain": [-15.2, 183], "nice": false, "zero": false}, "axis": null},
  "text": {"field": "t"}
 }}
],
"resolve": {"axis": {"x": "independent", "y": "independent"}}
}
